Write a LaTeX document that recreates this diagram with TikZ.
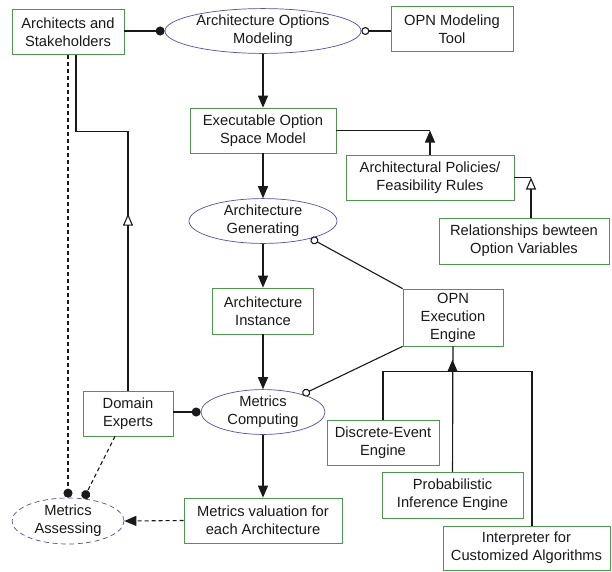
\documentclass[tikz,border=0pt]{standalone}
\usepackage{fontspec}
\setmainfont{Liberation Sans}
\usetikzlibrary{shapes.geometric,arrows.meta}
\definecolor{boxgreen}{RGB}{80,150,80}
\definecolor{ellblue}{RGB}{80,80,165}
\definecolor{ink}{RGB}{25,25,25}

\begin{document}
\begin{tikzpicture}[x=1pt,y=-1pt,
  every node/.style={font=\fontsize{14.7}{18}\selectfont, text=ink, align=center, inner sep=0pt},
  sz/.style 2 args={minimum width=#1pt, minimum height=#2pt},
  box/.style={draw=boxgreen, line width=0.7pt, rectangle},
  oval/.style={draw=ellblue, line width=0.7pt, ellipse},
  link/.style={draw=ink, line width=1.1pt},
  dashlink/.style={link, dash pattern=on 4pt off 3pt},
  flow/.style={link, -{Triangle[length=12pt,width=10pt]}},
  hollowtri/.style={link, -{Triangle[length=12pt,width=10pt,fill=white]}},
  dot/.style={-{Circle[length=9pt]}},
  ring/.style={-{Circle[length=8pt,fill=white]}}
]
\fill[white] (0,0) rectangle (612,571);
\useasboundingbox (0,0) rectangle (612,571);

% activities (ellipses) and artefacts / actors (boxes)
\node[box, sz={112}{45}] (arch) at (68,32) {Architects and\\Stakeholders};
\node[oval, sz={196}{44}] (aom) at (263,31) {Architecture Options\\Modeling};
\node[box, sz={122}{45}] (tool) at (452,29) {OPN Modeling\\Tool};
\node[box, sz={146}{45}] (esm) at (263,130.5) {Executable Option\\Space Model};
\node[box, sz={168}{45}] (pol) at (430,177.5) {Architectural Policies/\\Feasibility Rules};
\node[box, sz={170}{46}] (rel) at (524,241) {Relationships bewteen\\Option Variables};
\node[oval, sz={148}{44}] (agen) at (263,221) {Architecture\\Generating};
\node[box, sz={101}{46}] (inst) at (263,311) {Architecture\\Instance};
\node[box, sz={100}{57}] (opn) at (453,317.5) {OPN\\Execution\\Engine};
\node[oval, sz={124}{44}] (mc) at (263,412) {Metrics\\Computing};
\node[box, sz={90}{45}] (dom) at (128,413.5) {Domain\\Experts};
\node[oval, dash pattern=on 5pt off 3.5pt, sz={112}{46}] (ma) at (68,521) {Metrics\\Assessing};
\node[box, sz={158}{45}] (mv) at (263,520.5) {Metrics valuation for\\each Architecture};
\node[box, sz={112}{45}] (de) at (383,442.5) {Discrete-Event\\Engine};
\node[box, sz={141}{46}] (pie) at (452.5,495) {Probabilistic\\Inference Engine};
\node[box, sz={167}{44}] (interp) at (526.5,548) {Interpreter for\\Customized Algorithms};

% helper points
\coordinate (relTop) at ([xshift=7pt]rel.north);
\coordinate (archFoot) at ([xshift=8pt]arch.south);
\coordinate (intTop) at ([xshift=5.5pt]interp.north);
\coordinate (domFoot) at ([xshift=-13pt]dom.south);
\coordinate (j1) at (pol.north |- esm.east);
\coordinate (j2) at (relTop |- pol.east);

% main flow
\draw[flow] (aom.south) -- (esm.north);
\draw[flow] (esm.south) -- (agen.north);
\draw[flow] (agen.south) -- (inst.north);
\draw[flow] (inst.south) -- (mc.north);
\draw[flow] (mc.south) -- (mv.north);

% actors and tools
\draw[link, dot] (arch.east |- aom.west) -- (aom.west);
\draw[link, ring] (tool.west |- aom.east) -- (aom.east);
\draw[link, dot] (dom.east |- mc.west) -- (mc.west);
\draw[link, ring] (opn.north west) -- (agen.-20);
\draw[link, ring] (opn.south west) -- (mc.24);

% rules feeding the option space model
\draw[link] (esm.east) -- (j1);
\draw[flow] (pol.north) -- (j1);
\draw[link] (pol.east) -- (j2);
\draw[hollowtri] (relTop) -- (j2);

% domain experts specialise the stakeholders
\draw[link] (dom.north) -- ++(0,-259) -| (archFoot);
\draw[hollowtri] (dom.north) -- ++(0,-177);

% metrics assessing
\draw[dashlink, dot] (arch.south) -- (arch.south |- ma.north);
\draw[dashlink, dot] (domFoot) -- (ma.55);
\draw[dashlink, -{Triangle[length=12pt,width=10pt]}] (mv.west) -- (ma.east);

% execution engines
\draw[link] (de.north) -- ++(0,-48) -| (intTop);
\draw[link] (pie.north) -- (opn.south);
\draw[flow] (pie.north) -- ++(0,-112);
\end{tikzpicture}
\end{document}
